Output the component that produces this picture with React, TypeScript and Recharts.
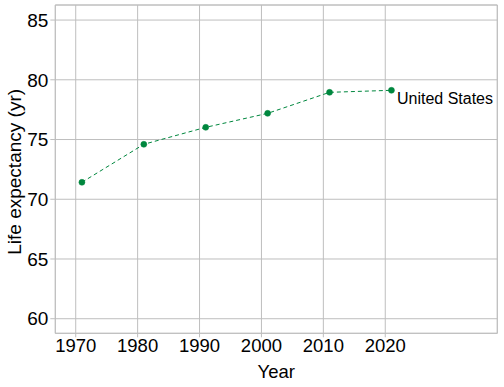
import React from "react";
import { LineChart, Line, XAxis, YAxis, CartesianGrid, ReferenceArea } from "recharts";

const years = [1971, 1981, 1991, 2001, 2011, 2021];
const lifeExpectancy = [71.42, 74.6, 76.02, 77.19, 78.95, 79.12];
const seriesName = "United States";
const xTicks = [1970, 1980, 1990, 2000, 2010, 2020];
const yTicks = [60, 65, 70, 75, 80, 85];
const xTitle = "Year";
const yTitle = "Life expectancy (yr)";

const data = years.map((y, i) => ({ year: y, value: lifeExpectancy[i] }));

const GREEN = "#00873E";
const GRID = "#BEBEBE";
const FONT = "Liberation Sans, Arial, sans-serif";

const EndLabel = (props: any) => {
  const { x, y, index } = props;
  if (index !== data.length - 1) return null;
  return (
    <text x={x + 5.5} y={y + 13.7} fontSize={16} fontFamily={FONT} fill="#000">
      {seriesName}
    </text>
  );
};

const XTitle = (props: any) => {
  const { viewBox } = props;
  const cx = viewBox.x + viewBox.width / 2;
  return (
    <text x={cx} y={377.7} textAnchor="middle" fontSize={18.5} fontFamily={FONT} fill="#000">
      {xTitle}
    </text>
  );
};

const YTitle = (props: any) => {
  const { viewBox } = props;
  const cy = viewBox.y + viewBox.height / 2 + 2.7;
  const x = 21;
  return (
    <text
      x={x}
      y={cy}
      transform={`rotate(-90 ${x} ${cy})`}
      textAnchor="middle"
      fontSize={19}
      fontFamily={FONT}
      fill="#000"
    >
      {yTitle}
    </text>
  );
};

export default function App() {
  const xDomain: [number, number] = [1966.7, 2038.1];
  const yDomain: [number, number] = [58.78, 86.26];
  return (
    <div style={{ position: "absolute", left: 0, top: 0, background: "#fff" }}>
      <LineChart
        width={504}
        height={387}
        data={data}
        margin={{ top: 5, right: 6.7, left: 0, bottom: 0 }}
        style={{ fontFamily: FONT }}
      >
        <CartesianGrid stroke={GRID} strokeWidth={1} />
        <ReferenceArea
          x1={xDomain[0]}
          x2={xDomain[1]}
          y1={yDomain[0]}
          y2={yDomain[1]}
          fill="none"
          stroke={GRID}
          strokeWidth={1}
          ifOverflow="visible"
        />
        <XAxis
          dataKey="year"
          type="number"
          domain={xDomain}
          ticks={xTicks}
          allowDataOverflow
          height={53.7}
          axisLine={false}
          tickLine={{ stroke: GRID }}
          tickSize={4}
          tick={{ fill: "#000", fontSize: 18.5, fontFamily: FONT }}
          label={<XTitle />}
        />
        <YAxis
          type="number"
          domain={yDomain}
          ticks={yTicks}
          allowDataOverflow
          width={55.3}
          axisLine={false}
          tickLine={{ stroke: GRID }}
          tickSize={5}
          tick={{ fill: "#000", fontSize: 19, fontFamily: FONT }}
          label={<YTitle />}
        />
        <Line
          dataKey="value"
          stroke={GREEN}
          strokeWidth={1}
          strokeDasharray="4 3"
          dot={{ r: 3, fill: GREEN, stroke: GREEN, strokeWidth: 0.5, strokeDasharray: "" }}
          isAnimationActive={false}
          label={<EndLabel />}
        />
      </LineChart>
    </div>
  );
}
